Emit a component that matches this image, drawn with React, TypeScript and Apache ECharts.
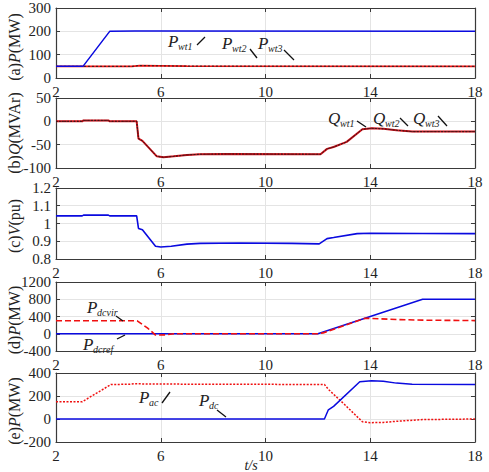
import React, { useEffect, useRef } from "react";
import * as echarts from "echarts";

// Time-domain simulation traces (t in seconds)
const xTicks = [2, 6, 10, 14, 18];

const pwt1: number[][] = [[2, 50], [3.03, 50], [4.05, 200], [5, 201], [6, 201], [18, 200]];
const pwt2: number[][] = [[2, 50], [4.9, 50], [5.2, 53], [6, 52], [7, 51], [18, 50]];
const pwt3: number[][] = [[2, 50], [4.9, 50], [5.2, 53], [6, 52], [7, 51], [18, 50]];

const qwt: number[][] = [
  [2, 0], [3, 0], [3.05, 2], [4, 2], [4.05, 0], [5.08, 0], [5.15, -37], [5.3, -42],
  [5.85, -75], [6.1, -77], [6.5, -75], [7, -72], [7.5, -70.5], [8.5, -70], [12.1, -70.5],
  [12.35, -59], [12.6, -55], [13.1, -44], [13.7, -17], [14.05, -15], [14.5, -16],
  [15, -19], [15.6, -22], [18, -22],
];

const vpu: number[][] = [
  [2, 1.043], [3, 1.043], [3.05, 1.047], [4, 1.047], [4.05, 1.043], [5.08, 1.043],
  [5.15, 0.972], [5.3, 0.965], [5.8, 0.872], [6, 0.868], [6.4, 0.872], [7, 0.884],
  [7.5, 0.888], [9, 0.89], [11, 0.888], [12.05, 0.885], [12.35, 0.915], [12.6, 0.921],
  [13.5, 0.943], [14, 0.945], [16, 0.944], [18, 0.943],
];

const pdcref: number[][] = [[2, 0], [12, 0], [16, 800], [18, 800]];
const pdcvir: number[][] = [
  [2, 300], [5.1, 300], [5.5, 130], [5.8, -30], [6.2, -25], [6.5, 0], [12, 0], [12.2, 20],
  [13.8, 360], [15, 330], [16, 315], [18, 305],
];

const pac: number[][] = [
  [2, 150], [3, 150], [4.1, 300], [4.8, 302], [5, 307], [5.5, 304], [12.25, 300],
  [12.4, 258], [13, 130], [13.7, -24], [14, -32], [14.5, -30], [15, -20], [16, -5], [18, 0],
];
const pdc: number[][] = [
  [2, 0], [12.25, 0], [12.4, 80], [12.6, 110], [13.6, 324], [14.05, 333], [14.5, 328],
  [15, 312], [15.6, 302], [18, 300],
];

const yRanges = [
  { min: 0, max: 300, interval: 100 },
  { min: -100, max: 50, interval: 50 },
  { min: 0.8, max: 1.2, interval: 0.1 },
  { min: -400, max: 1200, interval: 400 },
  { min: -200, max: 400, interval: 200 },
];

const panelTops = [8, 98, 188, 282, 373];
const panelHeights = [70, 70, 71, 69, 69];

const FONT = "Times New Roman, Liberation Serif, serif";
const BLUE = "#0a0adf";
const RED = "#f01010";
const AXIS = "#3a3a3a";
const GRID = "#e4e4e4";

const yLabels = [
  { pre: "(a)", v: "P", post: "(MW)", y: 47 },
  { pre: "(b)", v: "Q", post: "(MVAr)", y: 133 },
  { pre: "(c)", v: "V", post: "(pu)", y: 226 },
  { pre: "(d)", v: "P", post: "(MW)", y: 320 },
  { pre: "(e)", v: "P", post: "(MW)", y: 411 },
];

// Annotations: main symbol, subscript, and a leader line
const notes = [
  { s: "P", sub: "wt1", x: 168, y: 41, line: [197, 45, 205, 37] },
  { s: "P", sub: "wt2", x: 222, y: 43, line: [250, 49, 257, 58] },
  { s: "P", sub: "wt3", x: 258, y: 43, line: [284, 50, 294, 60] },
  { s: "Q", sub: "wt1", x: 328, y: 118, line: [357, 121, 366, 127] },
  { s: "Q", sub: "wt2", x: 373, y: 118, line: [400, 118, 408, 126] },
  { s: "Q", sub: "wt3", x: 413, y: 118, line: [438, 116, 447, 126] },
  { s: "P", sub: "dcvir", x: 87, y: 307, line: [116, 316, 123, 321] },
  { s: "P", sub: "dcref", x: 83, y: 344, line: [117, 339, 125, 335] },
  { s: "P", sub: "ac", x: 139, y: 397, line: [162, 403, 170, 392] },
  { s: "P", sub: "dc", x: 199, y: 400, line: [217, 410, 226, 417] },
];

export default function App() {
  const ref = useRef<HTMLDivElement>(null);

  useEffect(() => {
    if (!ref.current) return;
    const chart = echarts.init(ref.current, null, { renderer: "svg" });

    const grids = panelTops.map((top, i) => ({
      left: 56,
      width: 419,
      top,
      height: panelHeights[i],
      containLabel: false,
    }));

    const tickLabel = { fontFamily: FONT, fontSize: 15, color: "#222" };

    const xAxes: any[] = [];
    const yAxes: any[] = [];
    grids.forEach((_, i) => {
      xAxes.push({
        type: "value",
        gridIndex: i,
        min: 2,
        max: 18,
        interval: 4,
        position: "bottom",
        axisLine: { show: true, onZero: false, lineStyle: { color: AXIS, width: 1.2 } },
        axisTick: { show: true, inside: true, length: 4, lineStyle: { color: AXIS } },
        axisLabel: { ...tickLabel, margin: 6, formatter: (v: number) => (xTicks.includes(v) ? String(v) : "") },
        splitLine: { show: true, lineStyle: { color: GRID, width: 1 } },
      });
      xAxes.push({
        type: "value",
        gridIndex: i,
        min: 2,
        max: 18,
        interval: 4,
        position: "top",
        axisLine: { show: true, onZero: false, lineStyle: { color: AXIS, width: 1.2 } },
        axisTick: { show: true, inside: true, length: 4, lineStyle: { color: AXIS } },
        axisLabel: { show: false },
        splitLine: { show: false },
      });
      const r = yRanges[i];
      yAxes.push({
        type: "value",
        gridIndex: i,
        min: r.min,
        max: r.max,
        interval: r.interval,
        position: "left",
        axisLine: { show: true, onZero: false, lineStyle: { color: AXIS, width: 1.2 } },
        axisTick: { show: true, inside: true, length: 4, lineStyle: { color: AXIS } },
        axisLabel: {
          ...tickLabel,
          margin: 5,
          formatter: (v: number) => (i === 2 ? String(Math.round(v * 10) / 10) : String(v)),
        },
        splitLine: { show: true, lineStyle: { color: GRID, width: 1 } },
      });
      yAxes.push({
        type: "value",
        gridIndex: i,
        min: r.min,
        max: r.max,
        interval: r.interval,
        position: "right",
        axisLine: { show: true, onZero: false, lineStyle: { color: AXIS, width: 1.2 } },
        axisTick: { show: true, inside: true, length: 4, lineStyle: { color: AXIS } },
        axisLabel: { show: false },
        splitLine: { show: false },
      });
    });

    const line = (name: string, data: number[][], panel: number, color: string, width: number, type: any = "solid") => ({
      name,
      type: "line",
      xAxisIndex: panel * 2,
      yAxisIndex: panel * 2,
      data,
      showSymbol: false,
      symbol: "none",
      lineStyle: { color, width, type },
      z: 3,
    });

    const series = [
      line("Pwt2", pwt2, 0, RED, 1.8),
      line("Pwt3", pwt3, 0, "#222", 1, [2, 2]),
      line("Pwt1", pwt1, 0, BLUE, 1.5),
      line("Qwt1", qwt, 1, "#d01018", 2),
      line("Qwt2", qwt, 1, "#5a0a10", 1, [2, 1.5]),
      line("Qwt3", qwt, 1, "#222", 1, [1, 2]),
      line("V", vpu, 2, BLUE, 1.6),
      line("Pdcref", pdcref, 3, BLUE, 1.4),
      line("Pdcvir", pdcvir, 3, RED, 1.6, [6, 3]),
      line("Pac", pac, 4, RED, 1.5, [2, 1.5]),
      line("Pdc", pdc, 4, BLUE, 1.5),
    ];

    const graphics: any[] = [];
    yLabels.forEach((l) => {
      graphics.push({
        type: "text",
        x: 14,
        y: l.y,
        rotation: Math.PI / 2,
        style: {
          text: `{n|${l.pre}}{i|${l.v}}{n|${l.post}}`,
          x: 0,
          y: 0,
          textAlign: "center",
          textVerticalAlign: "middle",
          fill: "#222",
          rich: {
            n: { fontFamily: FONT, fontSize: 16, fill: "#222" },
            i: { fontFamily: FONT, fontSize: 16, fontStyle: "italic", fill: "#222" },
          },
        },
      });
    });
    notes.forEach((n) => {
      graphics.push({
        type: "text",
        x: n.x,
        y: n.y,
        style: {
          text: n.s,
          textAlign: "left",
          textVerticalAlign: "middle",
          fontFamily: FONT,
          fontSize: 17,
          fontStyle: "italic",
          fill: "#222",
        },
        z: 10,
      });
      graphics.push({
        type: "text",
        x: n.x + (n.s === "Q" ? 12 : 10),
        y: n.y + 5,
        style: {
          text: n.sub,
          textAlign: "left",
          textVerticalAlign: "middle",
          fontFamily: FONT,
          fontSize: 10,
          fontStyle: "italic",
          fill: "#222",
        },
        z: 10,
      });
      graphics.push({
        type: "line",
        shape: { x1: n.line[0], y1: n.line[1], x2: n.line[2], y2: n.line[3] },
        style: { stroke: "#111", lineWidth: 1.3 },
        z: 10,
      });
    });
    graphics.push({
      type: "text",
      x: 251,
      y: 472,
      style: {
        text: "t/s",
        textAlign: "center",
        textVerticalAlign: "bottom",
        fontFamily: FONT,
        fontSize: 14,
        fontStyle: "italic",
        fill: "#222",
      },
    });

    chart.setOption({
      animation: false,
      backgroundColor: "#ffffff",
      grid: grids,
      xAxis: xAxes,
      yAxis: yAxes,
      series,
      graphic: graphics,
    });

    return () => chart.dispose();
  }, []);

  return (
    <div
      ref={ref}
      style={{ position: "fixed", left: 0, top: 0, width: 489, height: 472, background: "#fff" }}
    />
  );
}
